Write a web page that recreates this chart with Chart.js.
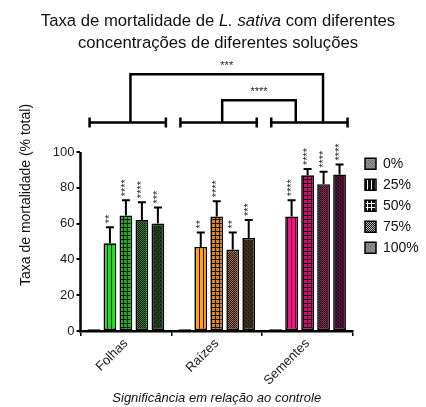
<!DOCTYPE html>
<html>
<head>
<meta charset="utf-8">
<script src="https://cdn.jsdelivr.net/npm/chart.js@4"></script>
<style>
  html, body { margin: 0; padding: 0; background: #fff; }
  #chart { display: block; }
</style>
</head>
<body>
<canvas id="chart" width="426" height="407"></canvas>
<script>
// categories and concentrations
const categories = ["Folhas", "Raízes", "Sementes"];
const concentrations = ["0%", "25%", "50%", "75%", "100%"];

// mean mortality (% total) per concentration, one value per category
const mean0 = [1, 1, 1];
const mean25 = [49, 47, 64];
const mean50 = [64.5, 64, 87];
const mean75 = [62, 45.5, 82];
const mean100 = [60, 52, 87.5];

// upper error bars
const err0 = [0, 0, 0];
const err25 = [9, 8, 9];
const err50 = [8.5, 8.5, 3.5];
const err75 = [10, 9.5, 7];
const err100 = [9, 10, 5.5];

// significance vs control
const sig0 = ["", "", ""];
const sig25 = ["**", "**", "****"];
const sig50 = ["****", "****", "****"];
const sig75 = ["****", "**", "****"];
const sig100 = ["***", "***", "****"];

// comparisons between categories: [from, to, level, label]
const groupBracketLevel = 116.5;
const comparisons = [
    [0.05, 2.17, 143.5, "***"],
    [1.06, 1.87, 129, "****"]
];

const yTicks = [0, 20, 40, 60, 80, 100];

const FONT = "'Liberation Sans', Arial, sans-serif";

function makePattern(kind, fg, bg) {
    const c = document.createElement("canvas");
    const s = kind === "check" ? 2 : 4;
    c.width = s; c.height = s;
    const g = c.getContext("2d");
    g.fillStyle = bg;
    g.fillRect(0, 0, s, s);
    g.fillStyle = fg;
    if (kind === "stripe") {
        g.fillRect(0, 0, 3, 4);
    } else if (kind === "grid") {
        g.fillRect(0, 0, 3, 3);
    } else if (kind === "check") {
        g.fillRect(0, 0, 1, 1);
        g.fillRect(1, 1, 1, 1);
    } else if (kind === "solid") {
        g.fillRect(0, 0, s, s);
        g.fillStyle = bg;
        g.fillRect(0, 0, 1, 1);
        g.fillRect(2, 2, 1, 1);
    }
    return document.getElementById("chart").getContext("2d").createPattern(c, "repeat");
}

const colors25 = ["#2fd12f", "#f2a535", "#e41e80"];
const colors50 = ["#27a327", "#d08a34", "#c2146c"];
const colors75 = ["#1f8a1f", "#b0742c", "#a0125a"];
const colors100 = ["#1d3d1d", "#3d2c16", "#4d0b33"];

const fill0 = categories.map(() => "#777");
const fill25 = colors25.map(c => makePattern("stripe", c, "#111"));
const fill50 = colors50.map(c => makePattern("grid", c, "#111"));
const fill75 = colors75.map(c => makePattern("check", c, "#111"));
const fill100 = colors100.map(c => makePattern("solid", c, "#0a0a0a"));

const legendFills = [
    makePattern("solid", "#8a8a8a", "#666"),
    makePattern("stripe", "#111", "#fff"),
    makePattern("grid", "#111", "#fff"),
    makePattern("check", "#bbb", "#111"),
    makePattern("solid", "#8a8a8a", "#666")
];

function makeSet(i, data, err, sig, fill) {
    return {
        label: concentrations[i],
        data: data,
        errors: err,
        sig: sig,
        backgroundColor: fill,
        borderColor: "#000",
        borderWidth: 1.6,
        borderSkipped: false,
        categoryPercentage: 0.88,
        barPercentage: 0.8
    };
}

const errorBars = {
    id: "errorBars",
    afterDatasetsDraw(chart) {
        const ctx = chart.ctx;
        const y = chart.scales.y;
        ctx.save();
        chart.data.datasets.forEach((ds, i) => {
            chart.getDatasetMeta(i).data.forEach((bar, j) => {
                const top = y.getPixelForValue(ds.data[j] + ds.errors[j]);
                if (ds.errors[j] > 0) {
                    ctx.strokeStyle = "#000";
                    ctx.lineWidth = 2;
                    ctx.beginPath();
                    ctx.moveTo(bar.x, bar.y);
                    ctx.lineTo(bar.x, top);
                    ctx.moveTo(bar.x - 4, top);
                    ctx.lineTo(bar.x + 4, top);
                    ctx.stroke();
                }
                if (ds.sig[j]) {
                    ctx.save();
                    ctx.translate(bar.x, top - 4);
                    ctx.rotate(-Math.PI / 2);
                    ctx.fillStyle = "#222";
                    ctx.font = "11px " + FONT;
                    ctx.textAlign = "left";
                    ctx.textBaseline = "middle";
                    ctx.fillText(ds.sig[j], 0, 0);
                    ctx.restore();
                }
            });
        });
        ctx.restore();
    }
};

const brackets = {
    id: "brackets",
    afterDraw(chart) {
        const ctx = chart.ctx;
        const x = chart.scales.x;
        const y = chart.scales.y;
        const area = chart.chartArea;
        ctx.save();
        ctx.strokeStyle = "#000";
        ctx.lineWidth = 2.5;
        // y axis line, 0 to 100 only
        ctx.beginPath();
        ctx.moveTo(area.left, y.getPixelForValue(0) + 1);
        ctx.lineTo(area.left, y.getPixelForValue(100));
        ctx.stroke();
        // group brackets
        const gy = y.getPixelForValue(groupBracketLevel);
        categories.forEach((c, i) => {
            const x1 = x.getPixelForValue(i - 0.4);
            const x2 = x.getPixelForValue(i + 0.44);
            ctx.beginPath();
            ctx.moveTo(x1, gy); ctx.lineTo(x2, gy);
            ctx.moveTo(x1, gy - 5); ctx.lineTo(x1, gy + 5);
            ctx.moveTo(x2, gy - 5); ctx.lineTo(x2, gy + 5);
            ctx.stroke();
        });
        // comparison brackets
        ctx.fillStyle = "#222";
        ctx.font = "11px " + FONT;
        ctx.textAlign = "center";
        ctx.textBaseline = "bottom";
        comparisons.forEach(([a, b, level, label]) => {
            const x1 = x.getPixelForValue(a);
            const x2 = x.getPixelForValue(b);
            const ty = y.getPixelForValue(level);
            ctx.beginPath();
            ctx.moveTo(x1, gy); ctx.lineTo(x1, ty);
            ctx.lineTo(x2, ty); ctx.lineTo(x2, gy);
            ctx.stroke();
            ctx.fillText(label, (x1 + x2) / 2, ty - 3);
        });
        ctx.restore();
    }
};

const titlePlugin = {
    id: "mixedTitle",
    afterDraw(chart) {
        const ctx = chart.ctx;
        const cx = 218;
        const normal = "16.7px " + FONT;
        const italic = "italic 16.7px " + FONT;
        const parts = [["Taxa de mortalidade de ", normal], ["L. sativa", italic], [" com diferentes", normal]];
        ctx.save();
        ctx.fillStyle = "#111";
        ctx.textBaseline = "middle";
        ctx.textAlign = "left";
        let total = 0;
        parts.forEach(([t, f]) => { ctx.font = f; total += ctx.measureText(t).width; });
        let px = cx - total / 2;
        parts.forEach(([t, f]) => {
            ctx.font = f;
            ctx.fillText(t, px, 21);
            px += ctx.measureText(t).width;
        });
        ctx.font = normal;
        ctx.textAlign = "center";
        ctx.fillText("concentrações de diferentes soluções", cx, 43);
        ctx.restore();
    }
};

new Chart(document.getElementById("chart"), {
    type: "bar",
    data: {
        labels: categories,
        datasets: [
            makeSet(0, mean0, err0, sig0, fill0),
            makeSet(1, mean25, err25, sig25, fill25),
            makeSet(2, mean50, err50, sig50, fill50),
            makeSet(3, mean75, err75, sig75, fill75),
            makeSet(4, mean100, err100, sig100, fill100)
        ]
    },
    options: {
        responsive: false,
        animation: false,
        layout: { padding: { top: 59, left: 18, right: 0, bottom: 1 } },
        plugins: {
            title: { display: false },
            tooltip: { enabled: false },
            legend: {
                position: "right",
                align: "start",
                title: {
                    display: true,
                    text: " ",
                    font: { family: FONT, size: 14 },
                    padding: { top: 74, bottom: 0 }
                },
                labels: {
                    color: "#111",
                    font: { family: FONT, size: 14 },
                    boxWidth: 11,
                    boxHeight: 11,
                    padding: 7,
                    generateLabels: () => concentrations.map((c, i) => ({
                        text: c,
                        fillStyle: legendFills[i],
                        strokeStyle: "#000",
                        fontColor: "#111",
                        lineWidth: 1.5,
                        datasetIndex: i
                    }))
                }
            }
        },
        scales: {
            x: {
                grid: { drawOnChartArea: false, color: "#000", tickLength: 5, lineWidth: 1.5 },
                border: { display: true, color: "#000", width: 2.5 },
                ticks: {
                    color: "#222",
                    font: { family: FONT, size: 13 },
                    minRotation: 45,
                    maxRotation: 45,
                    padding: 0
                },
                title: {
                    display: true,
                    text: "Significância em relação ao controle",
                    color: "#111",
                    font: { family: FONT, size: 13, style: "italic" },
                    padding: { top: 2, bottom: 0 }
                }
            },
            y: {
                min: 0,
                max: 152,
                afterBuildTicks: axis => {
                    axis.ticks = yTicks.map(v => ({ value: v }));
                },
                grid: { drawOnChartArea: false, color: "#000", tickLength: 4, lineWidth: 2 },
                border: { display: false },
                ticks: {
                    color: "#222",
                    font: { family: FONT, size: 13 },
                    padding: 2
                },
                title: {
                    display: true,
                    text: "Taxa de mortalidade (% total)",
                    color: "#111",
                    font: { family: FONT, size: 14 },
                    padding: { top: 0, bottom: 16 }
                }
            },
            pad: {
                type: "linear",
                position: "right",
                display: true,
                grid: { display: false },
                border: { display: false },
                ticks: { display: false },
                afterFit: s => { s.width = 5; }
            }
        }
    },
    plugins: [errorBars, brackets, titlePlugin]
});
</script>
</body>
</html>
